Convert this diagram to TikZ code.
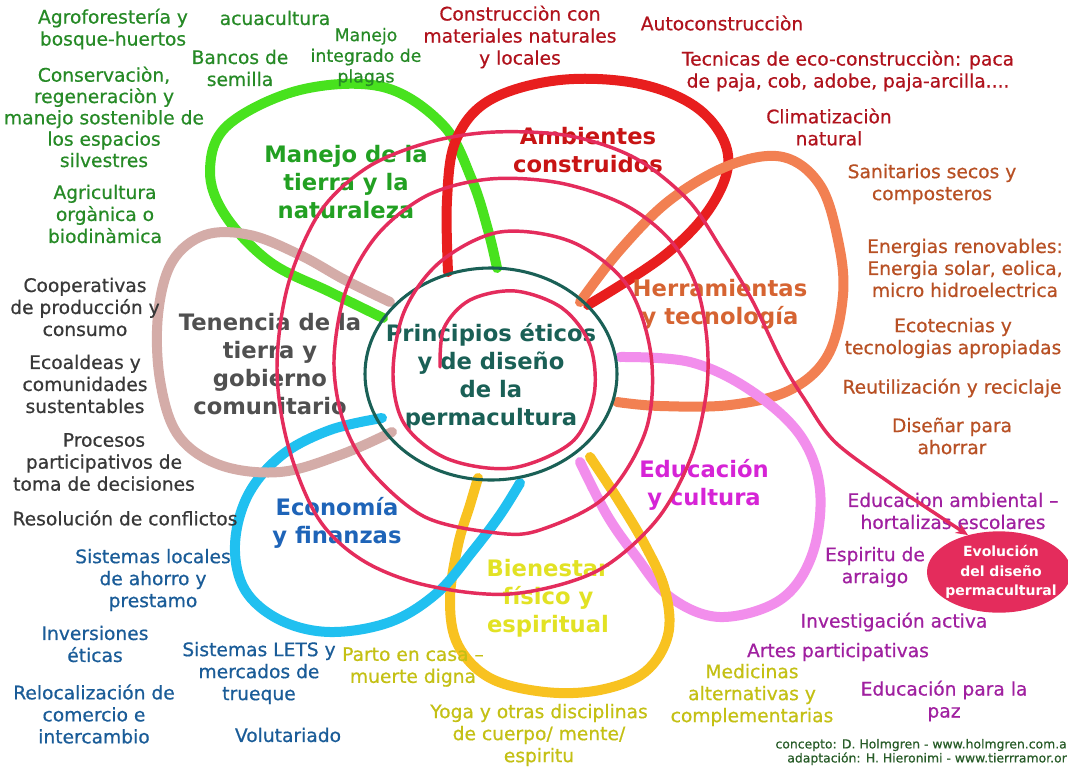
\documentclass[tikz,border=0pt]{standalone}
\usepackage{fontspec}
\setmainfont{DejaVu Sans}
\newfontfamily\itemfont{DejaVu Sans}[FakeBold=0.6]
\usetikzlibrary{shapes.geometric,arrows.meta}
\definecolor{cGreenLoop}{RGB}{72,226,30}
\definecolor{cRedLoop}{RGB}{232,30,30}
\definecolor{cOrangeLoop}{RGB}{242,128,82}
\definecolor{cPinkLoop}{RGB}{242,142,236}
\definecolor{cYellowLoop}{RGB}{248,194,32}
\definecolor{cCyanLoop}{RGB}{32,192,240}
\definecolor{cRoseLoop}{RGB}{212,172,168}
\definecolor{cCore}{RGB}{26,96,86}
\definecolor{cSpiral}{RGB}{228,44,92}
\definecolor{tGreen}{RGB}{38,138,38}
\definecolor{tGreenT}{RGB}{34,160,34}
\definecolor{tRed}{RGB}{176,18,28}
\definecolor{tRedT}{RGB}{200,20,20}
\definecolor{tOrange}{RGB}{184,80,36}
\definecolor{tOrangeT}{RGB}{214,100,50}
\definecolor{tPurple}{RGB}{160,32,160}
\definecolor{tPurpleT}{RGB}{214,36,214}
\definecolor{tYellow}{RGB}{196,192,20}
\definecolor{tYellowT}{RGB}{226,226,36}
\definecolor{tBlue}{RGB}{26,92,152}
\definecolor{tBlueT}{RGB}{30,100,184}
\definecolor{tGray}{RGB}{56,56,56}
\definecolor{tGrayT}{RGB}{80,80,80}
\definecolor{tFoot}{RGB}{40,92,40}
\tikzset{
  petal/.style={line width=7.5pt, line cap=round, line join=round},
  item/.style={font=\itemfont\fontsize{14}{16.5}\selectfont, align=center, inner sep=0pt},
  titl/.style={font=\bfseries\fontsize{17}{21}\selectfont, align=center, inner sep=0pt},
  spir/.style={draw=cSpiral, line width=2.6pt, line cap=round, line join=round},
}
\begin{document}
\begin{tikzpicture}[x=0.75pt,y=-0.75pt]
\useasboundingbox (0,0) rectangle (1068,768);
\fill[white] (0,0) rectangle (1068,768);

% ---------- petals ----------
\draw[petal, cGreenLoop] plot[smooth, tension=0.6] coordinates {
 (383,318) (330,292) (270,262) (225,215) (210,170) (228,125) (300,90) (383,87) (443,125) (472,180) (488,230) (497,268)};
\draw[petal, cRedLoop] plot[smooth, tension=0.6] coordinates {
 (448,272) (447,200) (456,140) (490,100) (560,80) (640,84) (700,110) (728,155) (712,205) (665,255) (588,305)};
\draw[petal, cOrangeLoop] plot[smooth, tension=0.6] coordinates {
 (580,302) (620,250) (670,200) (730,165) (783,157) (820,185) (838,240) (843,295) (828,355) (790,390) (730,405) (660,406) (617,402)};
\draw[petal, cPinkLoop] plot[smooth, tension=0.6] coordinates {
 (620,357) (690,362) (750,390) (800,435) (820,490) (812,555) (780,600) (720,617) (670,597) (635,555) (607,515) (580,462)};
\draw[petal, cYellowLoop] plot[smooth, tension=0.6] coordinates {
 (590,457) (617,498) (645,545) (665,590) (668,635) (645,672) (600,690) (545,692) (490,678) (458,645) (450,600) (458,545) (470,505) (478,478)};
\draw[petal, cCyanLoop] plot[smooth, tension=0.6] coordinates {
 (382,418) (330,430) (282,455) (248,495) (235,545) (245,590) (280,620) (330,632) (390,622) (437,593) (472,552) (500,515) (520,483)};
\draw[petal, cRoseLoop] plot[smooth, tension=0.6] coordinates {
 (390,302) (345,280) (300,255) (250,235) (205,235) (172,262) (158,315) (160,380) (178,435) (220,465) (280,472) (340,455) (392,432)};

% ---------- core ----------
\node[ellipse, draw=cCore, line width=2.3pt, minimum width=189pt, minimum height=159pt, inner sep=0pt] (core) at (491,374) {};
\node[titl, text=cCore] (coreT) at (491,377) {Principios éticos\\y de diseño\\de la\\permacultura};

% ---------- titles ----------
\node[titl, text=tGreenT] (tManejo) at (346,182) {Manejo de la\\tierra y la\\naturaleza};
\node[titl, text=tRedT] (tAmb) at (588,150) {Ambientes\\construidos};
\node[titl, text=tOrangeT] (tHerr) at (720,304) {Herramientas\\y tecnología};
\node[titl, text=tPurpleT] (tEdu) at (704,485) {Educación\\y cultura};
\node[titl, text=tYellowT] (tBien) at (548,598) {Bienestar\\físico y\\espiritual};
\node[titl, text=tBlueT] (tEco) at (337,523) {Economía\\y finanzas};
\node[titl, text=tGrayT] (tTen) at (270,364) {Tenencia de la\\tierra y\\gobierno\\comunitario};

% ---------- green items ----------
\node[item, text=tGreen] (g1) at (113,29) {Agroforestería y\\bosque-huertos};
\node[item, text=tGreen] (g2) at (275,18) {acuacultura};
\node[item, text=tGreen] (g3) at (240,68) {Bancos de\\semilla};
\node[item, text=tGreen, font=\itemfont\fontsize{13}{15.5}\selectfont] (g4) at (366,57) {Manejo\\integrado de\\plagas};
\node[item, text=tGreen, font=\itemfont\fontsize{14}{16}\selectfont] (g5) at (104,117) {Conservaciòn,\\regeneraciòn y\\manejo sostenible de\\los espacios\\silvestres};
\node[item, text=tGreen] (g6) at (105,214) {Agricultura\\orgànica o\\biodinàmica};

% ---------- red items ----------
\node[item, text=tRed] (r1) at (520,37) {Construcciòn con\\materiales naturales\\y locales};
\node[item, text=tRed] (r2) at (722,23) {Autoconstrucciòn};
\node[item, text=tRed] (r3) at (848,71) {Tecnicas de eco-construcciòn: paca\\de paja, cob, adobe, paja-arcilla....};
\node[item, text=tRed] (r4) at (829,127) {Climatizaciòn\\natural};

% ---------- orange items ----------
\node[item, text=tOrange] (o1) at (932,184) {Sanitarios secos y\\composteros};
\node[item, text=tOrange] (o2) at (965,268) {Energias renovables:\\Energia solar, eolica,\\micro hidroelectrica};
\node[item, text=tOrange] (o3) at (953,338) {Ecotecnias y\\tecnologias apropiadas};
\node[item, text=tOrange] (o4) at (952,388) {Reutilización y reciclaje};
\node[item, text=tOrange] (o5) at (952,436) {Diseñar para\\ahorrar};

% ---------- purple items ----------
\node[item, text=tPurple] (p1) at (953,511) {Educacion ambiental –\\hortalizas escolares};
\node[item, text=tPurple] (p2) at (875,567) {Espiritu de\\arraigo};
\node[item, text=tPurple] (p3) at (894,622) {Investigación activa};
\node[item, text=tPurple] (p4) at (838,652) {Artes participativas};
\node[item, text=tPurple] (p5) at (944,701) {Educación para la\\paz};

% ---------- yellow items ----------
\node[item, text=tYellow] (y1) at (413,667) {Parto en casa –\\muerte digna};
\node[item, text=tYellow] (y2) at (539,735) {Yoga y otras disciplinas\\de cuerpo/ mente/\\espiritu};
\node[item, text=tYellow] (y3) at (752,695) {Medicinas\\alternativas y\\complementarias};

% ---------- blue items ----------
\node[item, text=tBlue] (b1) at (153,580) {Sistemas locales\\de ahorro y\\prestamo};
\node[item, text=tBlue] (b2) at (95,644) {Inversiones\\éticas};
\node[item, text=tBlue] (b3) at (259,673) {Sistemas LETS y\\mercados de\\trueque};
\node[item, text=tBlue] (b4) at (94,714) {Relocalización de\\comercio e\\intercambio};
\node[item, text=tBlue] (b5) at (288,735) {Volutariado};

% ---------- gray items ----------
\node[item, text=tGray] (t1) at (85,307) {Cooperativas\\de producción y\\consumo};
\node[item, text=tGray] (t2) at (85,384) {Ecoaldeas y\\comunidades\\sustentables};
\node[item, text=tGray] (t3) at (104,462) {Procesos\\participativos de\\toma de decisiones};
\node[item, text=tGray] (t4) at (125,518) {Resolución de conflictos};

% ---------- evolution ellipse ----------
\node[ellipse, fill=cSpiral, minimum width=108pt, minimum height=61pt, inner sep=0pt] (evo) at (999,572) {};
\node[align=center, inner sep=0pt, text=white, font=\bfseries\fontsize{10.5}{14.5}\selectfont] (evoT) at (1001,572) {Evolución\\del diseño\\permacultural};

% ---------- spiral ----------
\draw[spir, -{Stealth[length=9pt, width=8pt]}] plot[smooth, tension=0.55] coordinates {
 (440,367) (444,328) (470,300) (515,291) (562,308) (590,345) (594,395) (572,442) (512,468) (448,459) (405,425) (393,375)
 (404,312) (440,262) (500,232) (572,242) (627,285) (651,355) (646,430) (605,497) (540,530) (497,533) (425,517) (370,470) (343,420) (334,360)
 (346,290) (378,234) (428,195) (490,179) (560,183) (625,205) (670,240) (696,285) (707,340) (706,395) (690,460) (655,522) (595,572) (510,594) (425,585) (362,560) (318,518) (288,445) (277,368)
 (288,285) (320,212) (368,167) (430,142) (495,132) (570,136) (635,158) (688,200) (722,250) (752,300) (782,362) (805,400) (835,442) (890,483) (930,510) (evo.130)};

% ---------- footer ----------
\node[anchor=east, align=right, inner sep=0pt, text=tFoot, font=\itemfont\fontsize{9.3}{10.5}\selectfont] (foot) at (1067,752) {concepto: D. Holmgren - www.holmgren.com.a\\adaptación: H. Hieronimi - www.tierrramor.or};
\end{tikzpicture}
\end{document}
